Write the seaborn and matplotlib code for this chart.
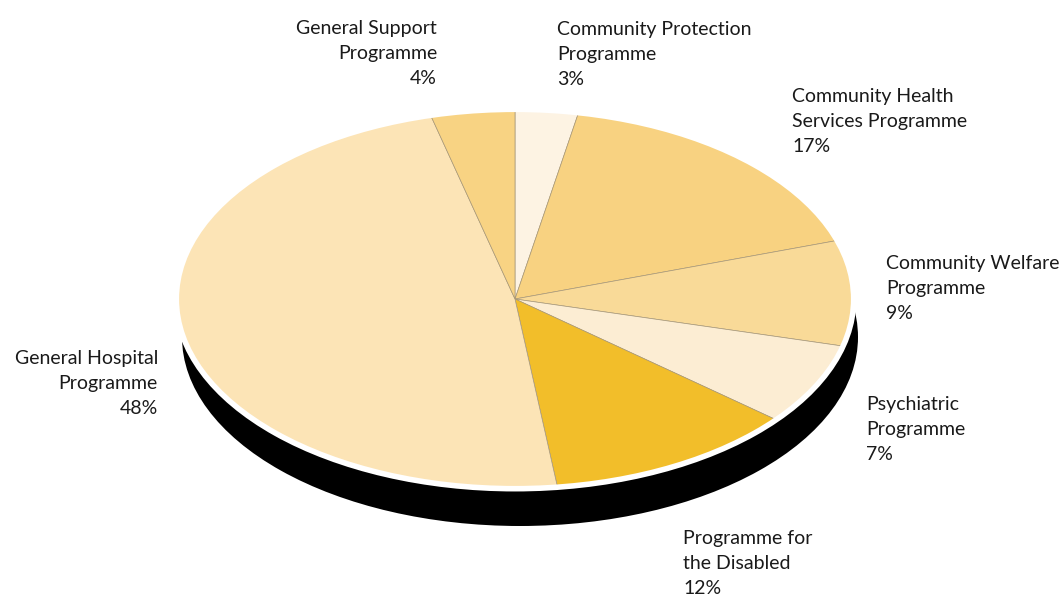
import matplotlib
matplotlib.use("Agg")
import matplotlib.pyplot as plt
from matplotlib.patches import Ellipse, Circle
import seaborn as sns

# ---- data ----
categories = ["Community Protection\nProgramme", "Community Health\nServices Programme",
              "Community Welfare\nProgramme", "Psychiatric\nProgramme",
              "Programme for\nthe Disabled", "General Hospital\nProgramme",
              "General Support\nProgramme"]
values = [3, 17, 9, 7, 12, 48, 4]
colors = ["#FDF3E3", "#F8D281", "#F9DA98", "#FCEDD3", "#F2BE2A", "#FCE4B6", "#F8D383"]

sns.set_theme(style="white")
plt.rcParams['font.family'] = ['Lato', 'DejaVu Sans']

W, H = 1060, 595
fig = plt.figure(figsize=(W / 100, H / 100), dpi=100)

# background axes in pixel coordinates
bg = fig.add_axes([0, 0, 1, 1])
bg.set_xlim(0, W)
bg.set_ylim(H, 0)
bg.axis("off")

cx, cy, rx, ry = 515, 299, 338, 189
# extruded shadow
bg.add_patch(Ellipse((cx + 5, cy + 38), 2 * rx, 2 * ry, facecolor="black", edgecolor="none", zorder=1))

# pie axes mapped to the ellipse bounding box (with a small margin)
m = 1.05
pax = fig.add_axes([(cx - m * rx) / W, 1 - (cy + m * ry) / H, 2 * m * rx / W, 2 * m * ry / H])
pax.axis("off")
pax.add_patch(Circle((0, 0), 1, facecolor="white", edgecolor="white", lw=5, zorder=0))
pax.pie(values, colors=colors, startangle=90, counterclock=False, radius=1,
        wedgeprops=dict(edgecolor="#A89878", linewidth=0.5))
pax.add_patch(Circle((0, 0), 1.0, facecolor="none", edgecolor="white", lw=3, zorder=5))
pax.set_xlim(-m, m)
pax.set_ylim(-m, m)
pax.set_aspect("auto")

# labels (position of first line centre, alignment)
label_pos = [(557, 28, "left"), (792, 95, "left"), (886, 262, "left"),
             (866, 403, "left"), (683, 537, "left"), (158, 357, "right"),
             (437, 27, "right")]
for cat, v, (x, y, ha) in zip(categories, values, label_pos):
    bg.text(x, y - 7, f"{cat}\n{v}%", ha=ha, va="top", fontsize=14,
            color="#1a1a1a", linespacing=1.57, multialignment=ha, zorder=10)

fig.savefig("out.png", dpi=100)
